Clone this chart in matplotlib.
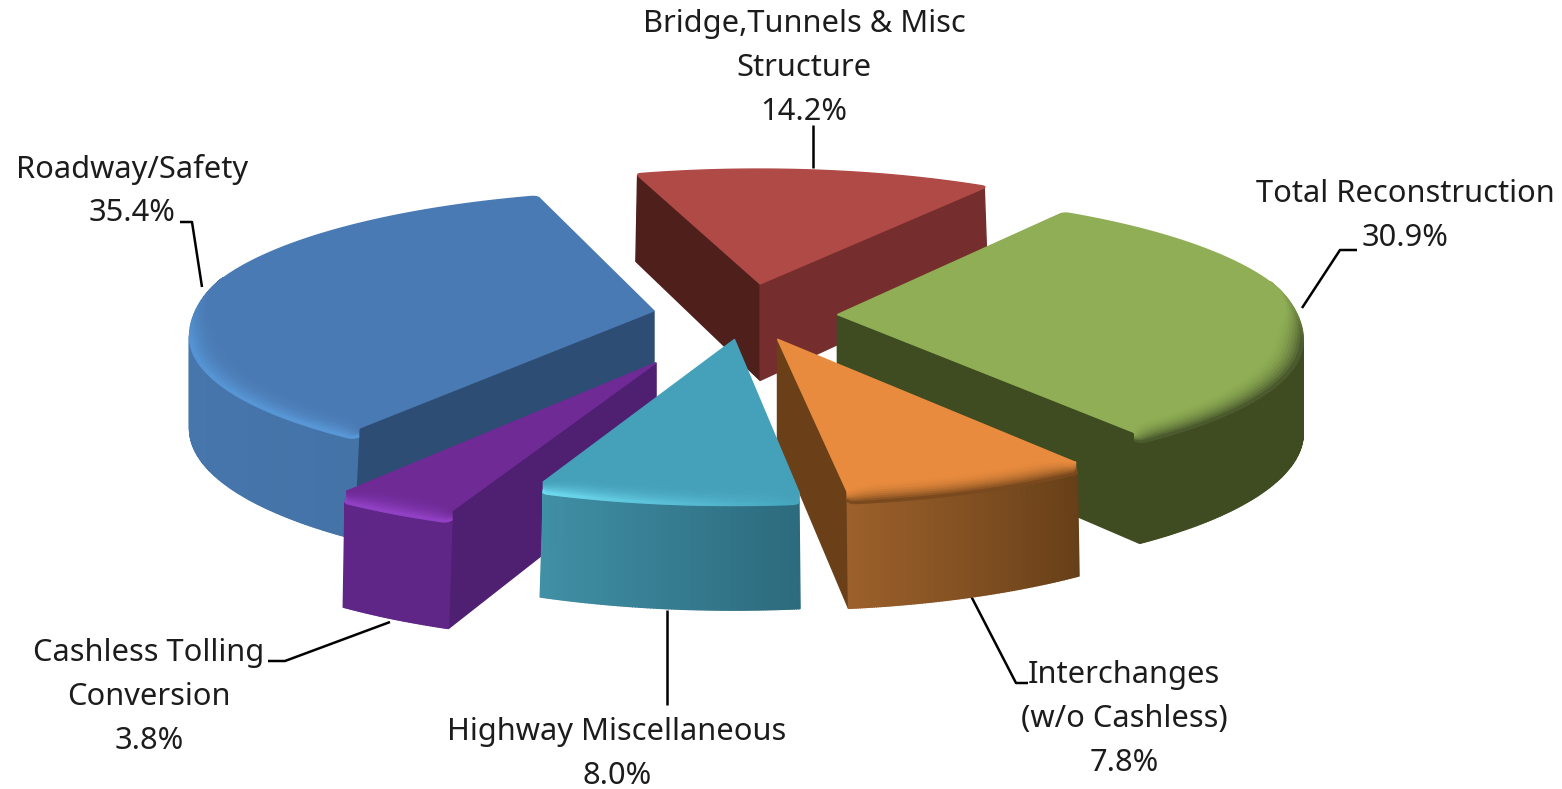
"""
plot.py

Exploded 3D pie of programme spend by category. Each wedge is extruded and
projected by hand, since matplotlib's own pie has no depth.
"""

import numpy as np
import matplotlib
matplotlib.use('Agg')
import matplotlib.pyplot as plt
from matplotlib.colors import to_rgb

categories = ["Bridge,Tunnels & Misc Structure", "Total Reconstruction",
              "Interchanges (w/o Cashless)", "Highway Miscellaneous",
              "Cashless Tolling Conversion", "Roadway/Safety"]
shares = [14.2, 30.9, 7.8, 8.0, 3.8, 35.4]

# how far each wedge is pulled out, in pie radii
explode = [0.24, 0.20, 0.19, 0.18, 0.39, 0.20]
draw_order = [0, 5, 1, 4, 2, 3]

top_colors = ['#b04a47', '#8fae55', '#e88b3e', '#45a0b9', '#6f2a96', '#4a7ab3']
# start of arc -> end of arc, clockwise
wall_colors = [('#752e2d', '#752e2d'), ('#3f4b20', '#3f4b20'), ('#663f18', '#9c602b'),
               ('#2d6a7d', '#4090a6'), ('#5f2687', '#5f2687'), ('#4473a8', '#4a7db5')]
bevel_colors = [('#b04a47', '#b04a47'), ('#44522a', '#44522a'), ('#6e431b', '#6e431b'),
                ('#45a5bd', '#72e0f5'), ('#9442c8', '#9442c8'), ('#5a9ada', '#4f8ccb')]
start_face = ['#4f1f1c', '#3f4b20', '#6b4019', '#3a7d90', '#4f2072', '#2d4d74']
end_face = ['#752e2d', '#3f4b20', '#6b4019', '#3a7d90', '#4f2072', '#2d4d74']

# projection settings (pixels)
CX, CY = 745, 315
RADIUS = 462
SQUASH = 0.29
PERSP = 0.11
HEIGHT = 99
START_ANGLE = -17.5
BEVEL_R = 0.06
BEVEL_Z = 0.08
FILLET = 0.015
TAPER = np.radians(5)


def project(u, v, z):
    p = 1 / (1 + PERSP * v)
    return CX + RADIUS * u * p, CY - RADIUS * SQUASH * v * p - z * p


def mix(a, b, t):
    a, b = np.array(to_rgb(a)), np.array(to_rgb(b))
    return tuple(a + (b - a) * t)


def bevel_width(theta):
    # only the front of the rim shows a rounded edge
    s = np.clip((0.25 - np.cos(theta)) / 0.45, 0, 1)
    return s * s * (3 - 2 * s)


def corner_inset(d, size):
    d = np.clip(d, 0, size)
    return size * (1 - np.sqrt(np.clip(1 - ((size - d) / size) ** 2, 0, 1)))


def arc_points(a0, a1):
    # angles and radii along the top edge, denser close to the corners
    th = np.concatenate([np.linspace(a0, a0 + TAPER, 24, endpoint=False),
                         np.linspace(a0 + TAPER, a1 - TAPER, max(int(np.degrees(a1 - a0) * 2), 20), endpoint=False),
                         np.linspace(a1 - TAPER, a1, 24)])
    r = 1 - corner_inset(th - a0, FILLET) - corner_inset(a1 - th, FILLET)
    return th, r


def to_plane(th, r, ox, oy):
    return ox + r * np.sin(th), oy + r * np.cos(th)


def signed_area(pts):
    n = len(pts)
    return 0.5 * sum(pts[i][0] * pts[(i + 1) % n][1] - pts[(i + 1) % n][0] * pts[i][1] for i in range(n))


def draw_poly(ax, pts, color, z):
    ax.fill(*zip(*pts), color=color, lw=1.0, zorder=z)


def draw_slice(ax, idx, a0, a1, z):
    mid = (a0 + a1) / 2
    ox, oy = explode[idx] * np.sin(mid), explode[idx] * np.cos(mid)
    th, r = arc_points(a0, a1)
    frac = (th - a0) / (a1 - a0)
    u, v = to_plane(th, r, ox, oy)
    ub, vb = to_plane(th, 1.0, ox, oy)  # the base keeps sharp corners
    w = bevel_width(th)
    ztop = -HEIGHT * BEVEL_Z * w

    # the rim narrows into each corner so the cut edge stays straight
    x = np.clip(np.minimum(th - a0, a1 - th) / TAPER, 0, 1)
    inset = BEVEL_R * w * np.sqrt(1 - (1 - x) ** 2)
    ut, vt = to_plane(th, r * (1 - inset), ox, oy)

    # cut faces, only when they turn towards the viewer
    face = [project(ox, oy, 0), project(ut[0], vt[0], 0), project(u[0], v[0], ztop[0]),
            project(ub[0], vb[0], -HEIGHT), project(ox, oy, -HEIGHT)]
    if signed_area(face) < 0:
        draw_poly(ax, face, start_face[idx], z)
    face = [project(ox, oy, 0), project(ox, oy, -HEIGHT), project(ub[-1], vb[-1], -HEIGHT),
            project(u[-1], v[-1], ztop[-1]), project(ut[-1], vt[-1], 0)]
    if signed_area(face) < 0:
        draw_poly(ax, face, end_face[idx], z)

    # outer wall
    for i in range(len(th) - 1):
        quad = [project(u[i], v[i], ztop[i]), project(u[i + 1], v[i + 1], ztop[i + 1]),
                project(ub[i + 1], vb[i + 1], -HEIGHT), project(ub[i], vb[i], -HEIGHT)]
        if signed_area(quad) < 0:
            draw_poly(ax, quad, mix(wall_colors[idx][0], wall_colors[idx][1], frac[i]), z)

    # rounded rim
    steps = 10
    for s in range(steps):
        t0, t1 = s / steps, (s + 1) / steps
        for i in range(len(th) - 1):
            if w[i] == 0 and w[i + 1] == 0:
                continue
            edge = mix(bevel_colors[idx][0], bevel_colors[idx][1], frac[i])
            col = mix(top_colors[idx], edge, w[i] * ((t0 + t1) / 2) ** 2)
            quad = []
            for j, t in ((i, t0), (i + 1, t0), (i + 1, t1), (i, t1)):
                rr = r[j] * (1 - inset[j] * (1 - t))
                uu, vv = to_plane(th[j], rr, ox, oy)
                quad.append(project(uu, vv, ztop[j] * t))
            draw_poly(ax, quad, col, z)

    # flat top
    outline = [project(ox, oy, 0)] + [project(a, b, 0) for a, b in zip(ut, vt)]
    draw_poly(ax, outline, top_colors[idx], z)


fig = plt.figure(figsize=(15.62, 7.89), dpi=100)
ax = fig.add_axes([0, 0, 1, 1])
ax.set_xlim(0, 1562)
ax.set_ylim(789, 0)
ax.axis('off')

sweeps = np.array(shares) / sum(shares) * 2 * np.pi
edges = np.radians(START_ANGLE) + np.concatenate([[0], np.cumsum(sweeps)])
for order, idx in enumerate(draw_order):
    draw_slice(ax, idx, edges[idx], edges[idx + 1], 2 + order)

# leader lines
leaders = [([813, 813], [125, 168]),
           ([1357, 1340, 1302], [250, 250, 308]),
           ([1028, 1016, 971], [683, 683, 596]),
           ([667, 667], [705, 610]),
           ([268, 285, 390], [661, 661, 622]),
           ([180, 192, 202], [222, 222, 287])]
for xs, ys in leaders:
    ax.plot(xs, ys, color='black', lw=1.8, zorder=1, solid_capstyle='butt')

# data labels, one row per text line
label_rows = [["Bridge,Tunnels & Misc", "Structure"], ["Total Reconstruction"],
              ["Interchanges", "(w/o Cashless)"], ["Highway Miscellaneous"],
              ["Cashless Tolling", "Conversion"], ["Roadway/Safety"]]
label_pos = [(804, 24), (1405, 194), (1124, 675), (617, 732), (149, 653), (132, 169)]
for idx, rows in enumerate(label_rows):
    x, y = label_pos[idx]
    lines = rows + [f"{shares[idx]:.1f}%"]
    for n, line in enumerate(lines):
        ax.text(x, y + n * 44, line, ha='center', va='center', fontsize=22.2,
                family='Noto Sans', color='#1c1c1c', zorder=20)

fig.savefig('out.png', dpi=100, facecolor='white')
plt.close(fig)
